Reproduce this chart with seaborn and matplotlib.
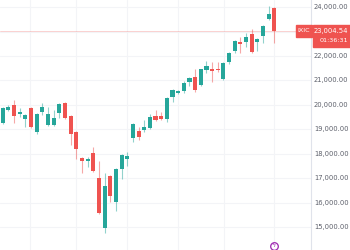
import matplotlib
matplotlib.use("Agg")
import matplotlib.pyplot as plt
import seaborn as sns
import numpy as np
import pandas as pd

# ---- data (weekly candles, IXIC) ----
opens = [19265, 19796, 20000, 19633, 19429, 19877, 18898, 19714, 19184, 19184,
         19673, 20082, 19551, 18898, 17837, 17714, 18041, 17020, 14979, 17102,
         16041, 17387, 17796, 18653, 18939, 18980, 19061, 19551, 19551, 19429,
         20327, 20490, 20571, 20939, 21143, 20816, 21429, 21469, 21450, 21061,
         21755, 22204, 22572, 22572, 22898, 22572, 22816, 23510, 23959]
closes = [19877, 19918, 19551, 19714, 19592, 19102, 19633, 19918, 19633, 19469,
          20041, 19469, 18816, 18204, 17714, 17796, 17306, 15592, 16694, 16286,
          17387, 17959, 17918, 19225, 18694, 19102, 19510, 19388, 19429, 20286,
          20612, 20571, 20898, 21102, 20612, 21450, 21592, 21388, 21420, 21714,
          22123, 22612, 22490, 22776, 22163, 22694, 23225, 23715, 23004.54]
highs = [19918, 20000, 20204, 19877, 19640, 19918, 19680, 20082, 19918, 19796,
         20080, 20120, 19590, 18940, 17870, 17877, 18286, 17714, 17224, 17140,
         17420, 18000, 18082, 19265, 19102, 19388, 19633, 19796, 19714, 20320,
         20650, 20600, 20980, 21140, 21469, 21480, 21796, 21755, 21755, 21750,
         22160, 22650, 22776, 22939, 23102, 22730, 23260, 24041, 24000]
lows = [19225, 19750, 19265, 19510, 19102, 19060, 18816, 19592, 19140, 19140,
        19469, 19430, 18367, 17796, 17224, 17469, 17270, 15560, 14775, 16041,
        15673, 16979, 17510, 18490, 18571, 18898, 19020, 19350, 19400, 19306,
        20122, 20449, 20490, 20776, 20531, 20780, 21306, 20939, 21350, 21020,
        21673, 22123, 22123, 22367, 22120, 22204, 22531, 23470, 22531]
price_ticks = [15000, 16000, 17000, 18000, 19000, 20000, 21000, 22000, 23000, 24000]
symbol = "IXIC"
last_price = "23,004.54"
countdown = "01:36:31"

UP = "#26a69a"
DOWN = "#ef5350"
GRID = "#f3f4f7"

df = pd.DataFrame({"open": opens, "close": closes, "high": highs, "low": lows})
df["idx"] = np.arange(len(df))
df["up"] = df["close"] >= df["open"]
df["color"] = np.where(df["up"], UP, DOWN)
df["bottom"] = df[["open", "close"]].min(axis=1)
df["height"] = (df["open"] - df["close"]).abs().clip(lower=60)

sns.set_theme(style="white")
fig = plt.figure(figsize=(3.5, 2.5), dpi=100)
ax = fig.add_axes([0, 0, 311 / 350, 1])

# grid
for v in range(14000, 25000, 1000):
    ax.axhline(v, color=GRID, lw=0.8, zorder=0)
for gx in [4.8, 12.95, 21.95, 30.95, 39.1, 47.9]:
    ax.axvline(gx, color=GRID, lw=0.8, zorder=0)

# wicks
ax.vlines(df["idx"], df["low"], df["high"], colors=df["color"], lw=0.8, alpha=0.5, zorder=2)
# bodies
ax.bar(df["idx"], df["height"], bottom=df["bottom"], width=0.72, color=df["color"],
       linewidth=0, zorder=3)

# last price line
last = closes[-1]
ax.axhline(last, color=DOWN, lw=0.6, alpha=0.3, zorder=1)

ax.set_xlim(-0.48, 54.47)
ax.set_ylim(14080, 24286)
ax.set_xticks([])
ax.set_yticks([])
for s in ["top", "left", "bottom"]:
    ax.spines[s].set_visible(False)
ax.spines["right"].set_color("#e0e3eb")
ax.spines["right"].set_linewidth(0.8)

# price axis labels
ytr = ax.get_yaxis_transform()
for p in price_ticks:
    if abs(p - 23000) < 1:
        continue
    ax.text(1.0 + 37.5 / 311, p, f"{p:,.2f}", transform=ytr, ha="right", va="center",
            fontsize=4.9, color="#5d606b", clip_on=False)

# last price labels
fig.patches.append(plt.Rectangle((296 / 350, 1 - 37 / 250), 16 / 350, 12 / 250,
                                 transform=fig.transFigure, color=DOWN, zorder=5))
fig.patches.append(plt.Rectangle((313 / 350, 1 - 47 / 250), 37 / 350, 22 / 250,
                                 transform=fig.transFigure, color=DOWN, zorder=5))
fig.text(304 / 350, 1 - 31 / 250, symbol, ha="center", va="center", fontsize=4.6,
         color="white", zorder=6)
fig.text(348 / 350, 1 - 31 / 250, last_price, ha="right", va="center", fontsize=4.9,
         color="white", zorder=6)
fig.text(348 / 350, 1 - 41 / 250, countdown, ha="right", va="center", fontsize=4.6,
         color="white", zorder=6)

# event icon
ax.scatter([47.9], [14250], s=30, facecolor="white", edgecolor="#9c27b0", lw=0.9,
           zorder=6, clip_on=False)
ax.text(47.9, 14250, "ϟ", ha="center", va="center", fontsize=4.5, color="#9c27b0", zorder=7)

fig.savefig("out.png", dpi=100)
